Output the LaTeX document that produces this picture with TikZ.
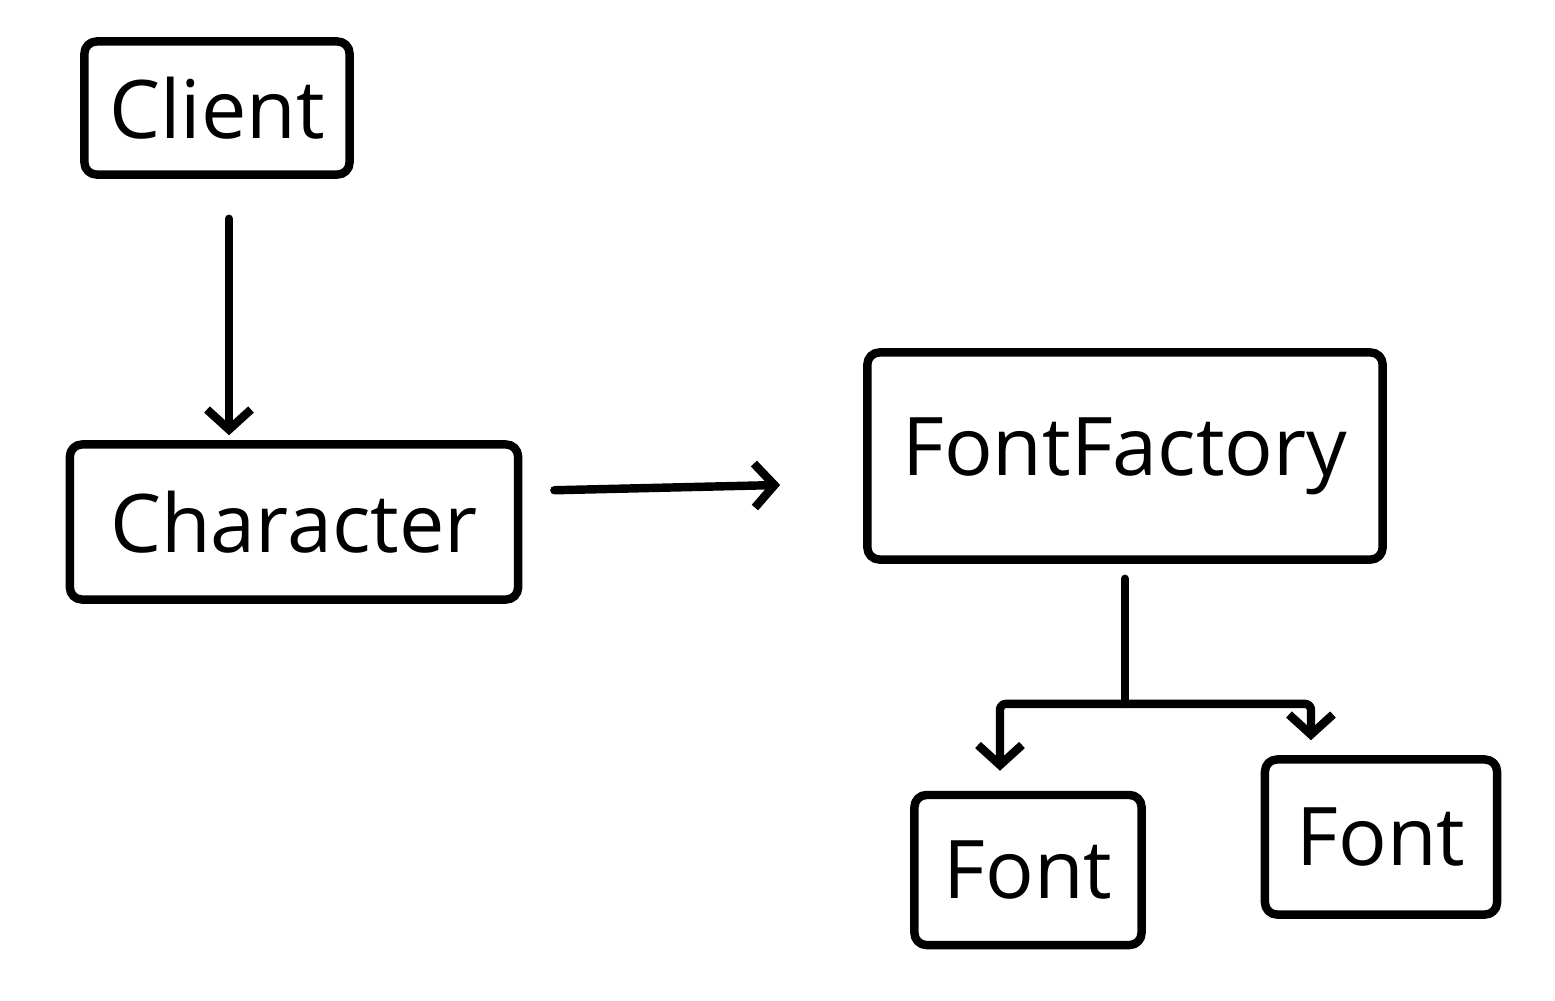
\documentclass[tikz,border=0pt]{standalone}
\usepackage{fontspec}
\setmainfont{Open Sans}
\usetikzlibrary{arrows.meta, positioning, calc}

\begin{document}
\begin{tikzpicture}[
    x=0.01cm, y=-0.01cm,
    line width=2.4pt, line cap=round, line join=round,
    box/.style={draw, rounded corners=0.12cm, inner sep=0pt, font=\fontsize{23}{27}\selectfont},
    link/.style={rounded corners=0.06cm},
    arrow/.style={link, -{Straight Barb[length=0.2cm, width=0.44cm]}}
]
    \useasboundingbox (0,0) rectangle (1555,1000);

    \node (client) [box, minimum width=2.65cm, minimum height=1.33cm] at (217,108) {Client};
    \node (character) [box, minimum width=4.48cm, minimum height=1.55cm] at (294,522) {Character};
    \node (factory) [box, minimum width=5.15cm, minimum height=2.07cm] at (1125,456) {FontFactory};
    \node (font1) [box, minimum width=2.27cm, minimum height=1.5cm] at (1028,870) {Font};
    \node (font2) [box, minimum width=2.32cm, minimum height=1.55cm] at (1381,837) {Font};

    \draw [arrow, shorten <=0.4cm, shorten >=0.05cm] ([xshift=0.12cm]client.south) -- ([xshift=0.12cm]client.south |- character.north);
    \draw [arrow, shorten <=0.32cm, shorten >=0.83cm] ([yshift=0.31cm]character.east) -- ([yshift=-0.27cm]factory.west);

    \coordinate (split) at ([yshift=-1.4cm]factory.south);
    \draw [link, shorten <=0.15cm] (factory.south) -- (split);
    \draw [arrow, shorten >=0.2cm] (split) -| ([xshift=-0.28cm]font1.north);
    \draw [arrow, shorten >=0.15cm] (split) -| ([xshift=-0.7cm]font2.north);
\end{tikzpicture}
\end{document}
